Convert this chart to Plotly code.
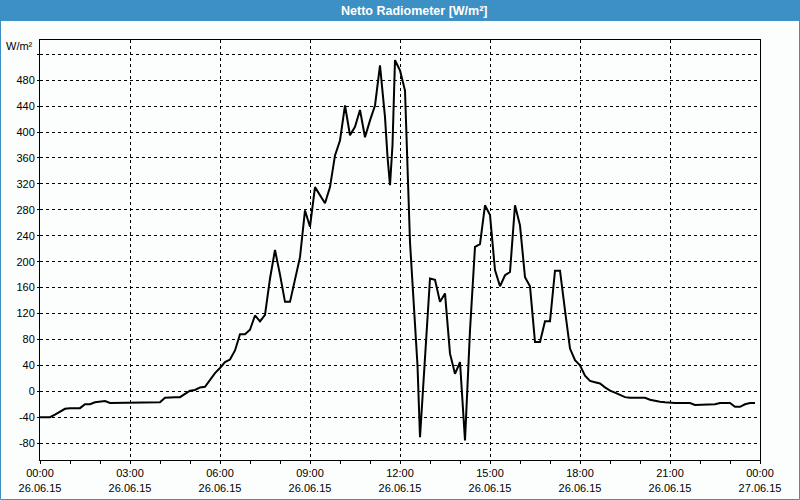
import plotly.graph_objects as go

# ---- data (10-minute readings, 26.06.15) ----
times = [
    "00:00", "00:10", "00:20", "00:30", "00:40", "00:50",
    "01:00", "01:10", "01:20", "01:30", "01:40", "01:50",
    "02:00", "02:10", "02:20", "02:30", "02:40", "02:50",
    "03:00", "03:10", "03:20", "03:30", "03:40", "03:50",
    "04:00", "04:10", "04:20", "04:30", "04:40", "04:50",
    "05:00", "05:10", "05:20", "05:30", "05:40", "05:50",
    "06:00", "06:10", "06:20", "06:30", "06:40", "06:50",
    "07:00", "07:10", "07:20", "07:30", "07:40", "07:50",
    "08:00", "08:10", "08:20", "08:30", "08:40", "08:50",
    "09:00", "09:10", "09:20", "09:30", "09:40", "09:50",
    "10:00", "10:10", "10:20", "10:30", "10:40", "10:50",
    "11:00", "11:10", "11:20", "11:30", "11:35", "11:40", "11:45", "11:50",
    "12:00", "12:10", "12:20", "12:30", "12:35", "12:40", "12:50",
    "13:00", "13:10", "13:20", "13:30", "13:40", "13:50",
    "14:00", "14:10", "14:20", "14:30", "14:40", "14:50",
    "15:00", "15:10", "15:20", "15:30", "15:40", "15:50",
    "16:00", "16:10", "16:20", "16:30", "16:40", "16:50",
    "17:00", "17:10", "17:20", "17:30", "17:40", "17:50",
    "18:00", "18:10", "18:20", "18:30", "18:40", "18:50",
    "19:00", "19:10", "19:20", "19:30", "19:40", "19:50",
    "20:00", "20:10", "20:20", "20:30", "20:40", "20:50",
    "21:00", "21:10", "21:20", "21:30", "21:40", "21:50",
    "22:00", "22:10", "22:20", "22:30", "22:40", "22:50",
    "23:00", "23:10", "23:20", "23:30", "23:40", "23:50",
]
values = [
    -40, -40, -40, -36, -31, -27,
    -26, -26, -26, -20, -20, -17,
    -16, -15, -18, -18, -18, -18,
    -18, -18, -18, -17, -17, -17,
    -17, -10, -9, -9, -9, -4,
    1, 2, 6, 7, 18, 28,
    36, 45, 49, 63, 88, 88,
    95, 117, 108, 118, 174, 218,
    180, 138, 138, 172, 207, 279,
    254, 315, 302, 290, 315, 364,
    387, 441, 395, 408, 434, 392,
    418, 441, 503, 423, 362, 318, 380, 511,
    495, 464, 230, 104, 40, -71, 52,
    174, 172, 138, 151, 58, 27,
    45, -76, 94, 223, 227, 287,
    272, 187, 162, 179, 184, 287,
    256, 176, 162, 76, 76, 108,
    108, 186, 186, 125, 66, 48,
    40, 24, 16, 14, 12, 6,
    1, -2, -5, -9, -10, -10,
    -10, -10, -13, -15, -16, -17,
    -18, -18, -18, -18, -18, -21,
    -21, -20, -20, -20, -18, -18,
    -18, -24, -24, -20, -18, -18,
]

x_tick_times = ["2015-06-26 00:00", "2015-06-26 03:00", "2015-06-26 06:00",
                "2015-06-26 09:00", "2015-06-26 12:00", "2015-06-26 15:00",
                "2015-06-26 18:00", "2015-06-26 21:00", "2015-06-27 00:00"]
x_tick_labels = ["00:00<br>26.06.15", "03:00<br>26.06.15", "06:00<br>26.06.15",
                 "09:00<br>26.06.15", "12:00<br>26.06.15", "15:00<br>26.06.15",
                 "18:00<br>26.06.15", "21:00<br>26.06.15", "00:00<br>27.06.15"]
y_tick_vals = [-80, -40, 0, 40, 80, 120, 160, 200, 240, 280, 320, 360, 400, 440, 480, 520]
y_tick_labels = ["-80", "-40", "0", "40", "80", "120", "160", "200", "240", "280",
                 "320", "360", "400", "440", "480", ""]

title_text = "Netto Radiometer [W/m²]"
unit_text = "W/m²"

# ---- figure ----
BLUE = "#3c90c4"
BG = "#fbfefc"
L, R, T, B = 40, 40, 40, 40
W, H = 800, 500
PW, PH = W - L - R, H - T - B


def px(xp):
    return (xp - L) / PW


def py(yp):
    return (H - B - yp) / PH


fig = go.Figure(go.Scatter(
    x=["2015-06-26 " + t for t in times], y=values, mode="lines",
    line=dict(color="black", width=2), hoverinfo="skip"))

tick_font = dict(family="Liberation Sans, Arial, sans-serif", size=11, color="#000000")

fig.update_layout(
    width=W, height=H,
    margin=dict(l=L, r=R, t=T, b=B, pad=0, autoexpand=False),
    paper_bgcolor=BG, plot_bgcolor=BG,
    showlegend=False,
    xaxis=dict(
        type="date", automargin=False,
        range=["2015-06-26 00:00", "2015-06-27 00:00"],
        tickmode="array", tickvals=x_tick_times, ticktext=x_tick_labels,
        ticks="outside", ticklen=3, tickcolor="black", tickwidth=1,
        showline=True, linecolor="black", linewidth=1, mirror=True,
        showgrid=True, gridcolor="black", gridwidth=1, griddash="3px,3px",
        zeroline=False, tickfont=tick_font, tickangle=0,
        minor=dict(ticks="outside", ticklen=3, dtick=3600000, tickcolor="black",
                   tickwidth=1, showgrid=False),
    ),
    yaxis=dict(
        automargin=False,
        range=[-106, 542],
        tickmode="array", tickvals=y_tick_vals, ticktext=y_tick_labels,
        ticks="outside", ticklen=2, tickcolor="black", tickwidth=1,
        showline=True, linecolor="black", linewidth=1, mirror=True,
        showgrid=True, gridcolor="black", gridwidth=1, griddash="3px,3px",
        zeroline=False, tickfont=tick_font,
    ),
    shapes=[
        dict(type="rect", xref="paper", yref="paper",
             x0=px(0), x1=px(W), y0=py(21), y1=py(0),
             fillcolor=BLUE, line=dict(width=0), layer="above"),
        dict(type="rect", xref="paper", yref="paper",
             x0=px(0.5), x1=px(W - 0.5), y0=py(H - 0.5), y1=py(20),
             fillcolor="rgba(0,0,0,0)", line=dict(color=BLUE, width=1), layer="above"),
    ],
    annotations=[
        dict(text="<b>" + title_text + "</b>", xref="paper", yref="paper",
             x=px(414), y=py(10.5), xanchor="center", yanchor="middle", showarrow=False,
             font=dict(family="Liberation Sans, Arial, sans-serif", size=12.5, color="white")),
        dict(text=unit_text, xref="paper", yref="paper",
             x=px(35), y=py(46), xanchor="right", yanchor="middle", showarrow=False,
             font=tick_font),
    ],
)

fig.write_html("out.html", config={"displayModeBar": False},
               post_script="document.body.style.margin='0';")
